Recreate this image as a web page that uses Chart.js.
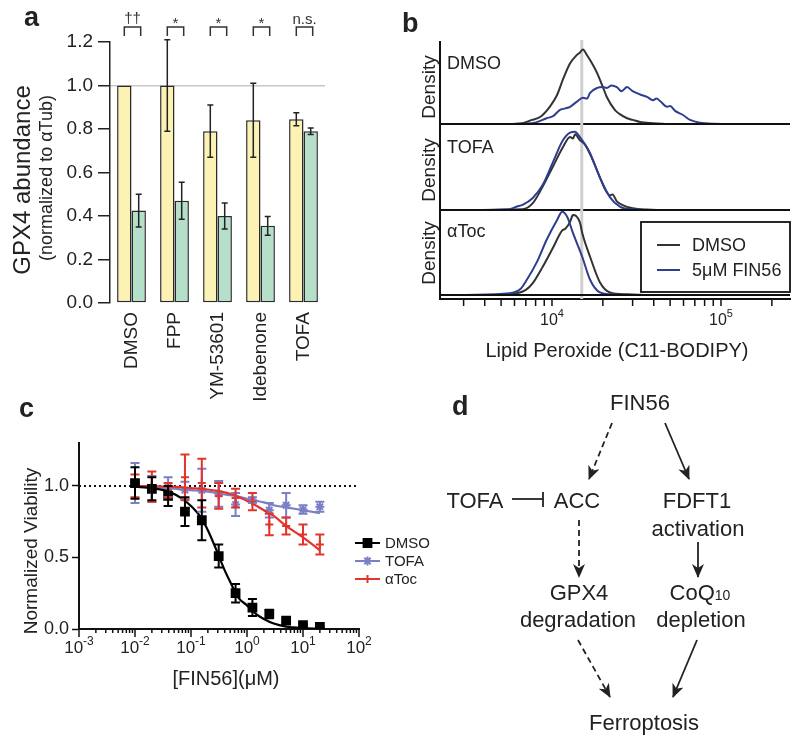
<!DOCTYPE html>
<html>
<head>
<meta charset="utf-8">
<script src="https://cdn.jsdelivr.net/npm/chart.js@4.4.1/dist/chart.umd.min.js"></script>
<style>
html, body { margin: 0; padding: 0; background: #fff; }
#fig { position: relative; width: 800px; height: 742px; overflow: hidden; background: #fff; }
#fig canvas { position: absolute; }
#txt { position: absolute; left: 0; top: 0; }
</style>
</head>
<body>
<div id="fig">
  <canvas id="cA" width="340" height="410" style="left:0;top:0"></canvas>
  <canvas id="cB1" width="400" height="88" style="left:400px;top:38px"></canvas>
  <canvas id="cB2" width="400" height="92" style="left:400px;top:120px"></canvas>
  <canvas id="cB3" width="400" height="164" style="left:400px;top:206px"></canvas>
  <canvas id="cC" width="440" height="320" style="left:0;top:380px"></canvas>

  <svg id="txt" width="800" height="742" viewBox="0 0 800 742" font-family="'Liberation Sans', Arial, sans-serif" fill="#222">
    <defs>
      <marker id="ah" viewBox="0 0 14 12" refX="13" refY="6" markerWidth="14" markerHeight="12" orient="auto" markerUnits="userSpaceOnUse">
        <path d="M0,0 L14,6 L0,12 L4,6 z" fill="#222"/>
      </marker>
    </defs>
    <g font-weight="bold" font-size="27">
      <text x="24" y="26">a</text>
      <text x="402" y="32">b</text>
      <text x="19" y="417">c</text>
      <text x="452" y="415">d</text>
    </g>
    <!-- panel a titles -->
    <text transform="translate(30,180) rotate(-90)" text-anchor="middle" font-size="24">GPX4 abundance</text>
    <text transform="translate(52,178) rotate(-90)" text-anchor="middle" font-size="18">(normalized to αTub)</text>
    <!-- panel b titles -->
    <g font-size="19" text-anchor="middle">
      <text transform="translate(435,87) rotate(-90)">Density</text>
      <text transform="translate(435,170) rotate(-90)">Density</text>
      <text transform="translate(435,253) rotate(-90)">Density</text>
    </g>
    <g font-size="18">
      <text x="447" y="69">DMSO</text>
      <text x="447" y="153">TOFA</text>
      <text x="447" y="237">αToc</text>
    </g>
    <text x="617" y="357" font-size="20" text-anchor="middle">Lipid Peroxide (C11-BODIPY)</text>
    <!-- panel c titles -->
    <text transform="translate(37,551) rotate(-90)" text-anchor="middle" font-size="19">Normalized Viability</text>
    <text x="226" y="685" text-anchor="middle" font-size="20">[FIN56](μM)</text>
    <!-- panel d diagram -->
    <g font-size="22" text-anchor="middle">
      <text x="640" y="410">FIN56</text>
      <text x="475" y="508">TOFA</text>
      <text x="577" y="508">ACC</text>
      <text x="697" y="508">FDFT1</text>
      <text x="698" y="536">activation</text>
      <text x="579" y="600">GPX4</text>
      <text x="578" y="627">degradation</text>
      <text x="700" y="600">CoQ<tspan font-size="14">10</tspan></text>
      <text x="701" y="627">depletion</text>
      <text x="644" y="730">Ferroptosis</text>
    </g>
    <g stroke="#222" stroke-width="1.8" fill="none">
      <line x1="612" y1="423" x2="589" y2="479" stroke-dasharray="6 4" marker-end="url(#ah)"/>
      <line x1="665" y1="423" x2="689" y2="479" marker-end="url(#ah)"/>
      <line x1="512" y1="499" x2="543" y2="499"/>
      <line x1="543" y1="492" x2="543" y2="507"/>
      <line x1="579" y1="520" x2="579" y2="577" stroke-dasharray="6 4" marker-end="url(#ah)"/>
      <line x1="698" y1="542" x2="698" y2="577" marker-end="url(#ah)"/>
      <line x1="578" y1="640" x2="610" y2="697" stroke-dasharray="6 4" marker-end="url(#ah)"/>
      <line x1="697" y1="640" x2="673" y2="697" marker-end="url(#ah)"/>
    </g>
  </svg>
</div>

<script>
// ---------- panel a : GPX4 abundance ----------
const aCategories = ['DMSO', 'FPP', 'YM-53601', 'Idebenone', 'TOFA'];
const aCtrl    = [1.0, 1.0, 0.79, 0.84, 0.845];
const aCtrlErr = [0, 0.21, 0.12, 0.17, 0.03];
const aFin     = [0.425, 0.47, 0.40, 0.355, 0.79];
const aFinErr  = [0.075, 0.085, 0.06, 0.043, 0.015];
const aSig     = ['††', '*', '*', '*', 'n.s.'];
const aYTicks  = [0, 0.2, 0.4, 0.6, 0.8, 1.0, 1.2];

// ---------- panel b : C11-BODIPY density (intensity, density) ----------
const bDmsoCtrl = [[5100,0],[6700,0.01],[7600,0.05],[8500,0.085],[9700,0.21],[10700,0.35],[11600,0.54],[12800,0.74],[14000,0.84],[14600,0.87],[15250,0.91],[16100,0.84],[16800,0.78],[18500,0.62],[20000,0.45],[21100,0.33],[23600,0.17],[25200,0.12],[27800,0.07],[30000,0.05],[33200,0.025],[39600,0.01],[48000,0]];
const bDmsoFin  = [[4900,0],[7600,0.01],[9300,0.07],[10200,0.10],[11100,0.17],[12000,0.19],[12800,0.21],[14000,0.27],[15250,0.32],[16100,0.31],[16800,0.38],[18500,0.44],[20000,0.45],[21100,0.44],[22500,0.47],[24200,0.45],[25800,0.40],[27800,0.45],[30000,0.40],[33200,0.36],[36500,0.33],[39600,0.29],[41500,0.31],[43600,0.28],[48000,0.21],[50000,0.22],[53500,0.16],[59600,0.11],[65600,0.05],[75000,0.015],[90000,0.003],[130000,0]];
const bTofaCtrl = [[3400,0],[6700,0.01],[7700,0.08],[8800,0.27],[10100,0.50],[11600,0.73],[12800,0.85],[13300,0.83],[13700,0.88],[14650,0.81],[15700,0.76],[17250,0.60],[19200,0.38],[20500,0.25],[22000,0.17],[22800,0.18],[24200,0.10],[26000,0.06],[30000,0.02],[36500,0.005],[45000,0]];
const bTofaFin  = [[3000,0],[5600,0.01],[6200,0.04],[6700,0.06],[7700,0.14],[8800,0.29],[10100,0.55],[11600,0.81],[12800,0.90],[13700,0.91],[14600,0.85],[15700,0.76],[16800,0.66],[19200,0.38],[22000,0.15],[25200,0.04],[30000,0.008],[36000,0]];
const bTocCtrl  = [[4900,0],[6200,0.02],[7000,0.06],[7700,0.14],[8800,0.33],[10100,0.55],[11500,0.76],[12000,0.78],[12800,0.86],[13300,0.94],[13900,0.93],[14650,0.85],[15100,0.73],[16800,0.45],[19200,0.15],[22000,0.03],[27800,0.008],[35000,0]];
const bTocFin   = [[3100,0],[5600,0.02],[6500,0.07],[7100,0.18],[8150,0.39],[9300,0.65],[10700,0.88],[11500,0.98],[12300,0.92],[13300,0.73],[15100,0.45],[16800,0.18],[19200,0.03],[22000,0.008],[26000,0]];
const bRefLine = 15000;
const bTicks = [3000,4000,5000,6000,7000,8000,9000,10000,20000,30000,40000,50000,60000,70000,80000,90000,100000,200000];
const bMajor = [10000, 100000];
const bExp   = ['4', '5'];

// ---------- panel c : viability ----------
const cConc    = [0.01, 0.02, 0.039, 0.078, 0.156, 0.3125, 0.625, 1.25, 2.5, 5, 10, 20];
const cDmso    = [1.02, 0.98, 0.93, 0.82, 0.76, 0.51, 0.25, 0.15, 0.105, 0.058, 0.027, 0.015];
const cDmsoErr = [0.11, 0.08, 0.07, 0.10, 0.14, 0.08, 0.065, 0.06, 0.03, 0.012, 0.01, 0.008];
const cTofa    = [1.02, 0.98, 0.99, 0.97, 0.97, 0.945, 0.87, 0.90, 0.83, 0.865, 0.835, 0.855];
const cTofaErr = [0.14, 0.09, 0.07, 0.06, 0.15, 0.09, 0.08, 0.02, 0.05, 0.085, 0.03, 0.035];
const cToc     = [1.0, 0.995, 0.97, 1.06, 1.02, 0.93, 0.915, 0.89, 0.73, 0.72, 0.66, 0.59];
const cTocErr  = [0.08, 0.105, 0.05, 0.16, 0.17, 0.09, 0.065, 0.06, 0.075, 0.06, 0.07, 0.07];
const cFitConc = [0.01, 0.02, 0.04, 0.07, 0.1, 0.15, 0.2, 0.3, 0.4, 0.5, 0.7, 1, 1.5, 2, 3, 5, 10, 20];
const cDmsoFit = [0.995, 0.985, 0.96, 0.91, 0.86, 0.78, 0.69, 0.53, 0.41, 0.33, 0.22, 0.165, 0.10, 0.07, 0.038, 0.017, 0.006, 0.002];
const cTofaFit = [1.0, 0.99, 0.985, 0.975, 0.97, 0.965, 0.96, 0.95, 0.94, 0.935, 0.925, 0.91, 0.895, 0.885, 0.865, 0.85, 0.83, 0.81];
const cTocFit  = [1.0, 0.998, 0.995, 0.99, 0.985, 0.98, 0.975, 0.965, 0.955, 0.945, 0.925, 0.895, 0.86, 0.83, 0.79, 0.72, 0.64, 0.55];
const cLegendOrder = ['DMSO', 'TOFA', 'αToc'];
const cRefLine = 1.0;
const cYTicks  = [0, 0.5, 1.0];
const cXTicks  = [0.001,0.002,0.003,0.004,0.005,0.006,0.007,0.008,0.009,
                  0.01,0.02,0.03,0.04,0.05,0.06,0.07,0.08,0.09,
                  0.1,0.2,0.3,0.4,0.5,0.6,0.7,0.8,0.9,
                  1,2,3,4,5,6,7,8,9,
                  10,20,30,40,50,60,70,80,90,100];
const cXMajor  = [0.001, 0.01, 0.1, 1, 10, 100];
const cXExp    = ['-3', '-2', '-1', '0', '1', '2'];

const FONT = "'Liberation Sans', Arial, Helvetica, sans-serif";
Chart.defaults.font.family = FONT;
Chart.defaults.color = '#222';
Chart.defaults.animation = false;
Chart.defaults.responsive = false;
Chart.defaults.plugins.legend.display = false;
Chart.defaults.plugins.tooltip.enabled = false;

const toXY = arr => arr.map(([x, y]) => ({ x, y }));
const zipXY = (xs, ys) => xs.map((x, i) => ({ x, y: ys[i] }));

// error bars, read from dataset.errorBars
const errorBars = {
  id: 'errorBars',
  afterDatasetsDraw(chart, args, opts) {
    const ctx = chart.ctx;
    for (let i = chart.data.datasets.length - 1; i >= 0; i--) {
      const ds = chart.data.datasets[i];
      if (!ds.errorBars) continue;
      const meta = chart.getDatasetMeta(i);
      const ys = chart.scales[meta.yAxisID];
      ctx.save();
      ctx.strokeStyle = ds.errorColor || ds.borderColor;
      ctx.lineWidth = opts.width || 1.5;
      meta.data.forEach((el, j) => {
        const e = ds.errorBars[j];
        if (!e) return;
        const v = typeof ds.data[j] === 'object' ? ds.data[j].y : ds.data[j];
        const t = ys.getPixelForValue(v + e), b = ys.getPixelForValue(v - e), c = opts.cap || 3;
        ctx.beginPath();
        ctx.moveTo(el.x, t); ctx.lineTo(el.x, b);
        ctx.moveTo(el.x - c, t); ctx.lineTo(el.x + c, t);
        ctx.moveTo(el.x - c, b); ctx.lineTo(el.x + c, b);
        ctx.stroke();
      });
      ctx.restore();
    }
  }
};

// significance brackets over panel a
const sigBrackets = {
  id: 'sigBrackets',
  afterDraw(chart) {
    const ctx = chart.ctx;
    const m0 = chart.getDatasetMeta(0), m1 = chart.getDatasetMeta(1);
    ctx.save();
    ctx.strokeStyle = '#333'; ctx.fillStyle = '#333'; ctx.lineWidth = 1.5;
    ctx.font = '15px ' + FONT; ctx.textAlign = 'center';
    aSig.forEach((s, i) => {
      const x0 = m0.data[i].x, x1 = m1.data[i].x + 2;
      ctx.beginPath();
      ctx.moveTo(x0, 36); ctx.lineTo(x0, 27); ctx.lineTo(x1, 27); ctx.lineTo(x1, 36);
      ctx.stroke();
      const m = ctx.measureText(s);
      ctx.fillText(s, (x0 + x1) / 2, 24 - m.actualBoundingBoxDescent);
    });
    ctx.restore();
  }
};

new Chart(document.getElementById('cA'), {
  type: 'bar',
  data: {
    labels: aCategories,
    datasets: [
      { label: 'DMSO', data: aCtrl, errorBars: aCtrlErr, errorColor: '#222', backgroundColor: '#fbf2b3', borderColor: '#2a2a2a', borderWidth: 1.5, borderSkipped: false, barPercentage: 1, categoryPercentage: 0.67 },
      { label: 'FIN56', data: aFin, errorBars: aFinErr, errorColor: '#222', backgroundColor: '#b6dfc9', borderColor: '#2a2a2a', borderWidth: 1.5, borderSkipped: false, barPercentage: 1, categoryPercentage: 0.67 }
    ]
  },
  options: {
    layout: { padding: { left: 0, right: 15, top: 42, bottom: 0 } },
    plugins: { errorBars: { width: 1.5, cap: 3 } },
    scales: {
      x: {
        grid: { display: false, drawTicks: false },
        border: { display: false },
        ticks: { minRotation: 90, maxRotation: 90, autoSkip: false, padding: 9, font: { size: 19 }, color: '#222' },
        afterFit(s) { s.height = 107; }
      },
      y: {
        min: 0, max: 1.2,
        afterBuildTicks(s) { s.ticks = aYTicks.map(v => ({ value: v })); },
        ticks: { callback: v => v.toFixed(1), font: { size: 19 }, padding: 5, color: '#222' },
        grid: { color: c => (c.tick && Math.abs(c.tick.value - 1) < 1e-6) ? '#c8c8c8' : 'rgba(0,0,0,0)', tickColor: '#222', tickLength: 12, lineWidth: 1.5, tickWidth: 1.5 },
        border: { color: '#222', width: 1.5 },
        afterFit(s) { s.width = 110; }
      }
    }
  },
  plugins: [errorBars, sigBrackets]
});

// ---------- panel b ----------
const densityDecor = {
  id: 'densityDecor',
  beforeDatasetsDraw(chart) {
    const { ctx, chartArea: a, scales: { x } } = chart;
    const gx = x.getPixelForValue(bRefLine);
    ctx.save();
    ctx.strokeStyle = '#cfcfcf'; ctx.lineWidth = 3;
    ctx.beginPath(); ctx.moveTo(gx, a.top - 2); ctx.lineTo(gx, a.bottom); ctx.stroke();
    ctx.restore();
  },
  afterDatasetsDraw(chart) {
    const { ctx, chartArea: a, scales: { y } } = chart;
    const by = y.getPixelForValue(0);
    ctx.save();
    ctx.strokeStyle = '#111'; ctx.lineWidth = 2.2;
    ctx.beginPath(); ctx.moveTo(a.left, by); ctx.lineTo(a.right, by); ctx.stroke();
    ctx.restore();
  }
};

const supLabel = (ctx, x, y, base, exp, fs, es, rise) => {
  ctx.font = fs + 'px ' + FONT;
  const wb = ctx.measureText(base).width;
  ctx.font = es + 'px ' + FONT;
  const we = ctx.measureText(exp).width;
  const x0 = x - (wb + we) / 2;
  ctx.textAlign = 'left';
  ctx.font = fs + 'px ' + FONT; ctx.fillText(base, x0, y);
  ctx.font = es + 'px ' + FONT; ctx.fillText(exp, x0 + wb, y - rise);
};

const bAxisTicks = {
  id: 'bAxisTicks',
  afterDraw(chart) {
    const { ctx, chartArea: a, scales: { x } } = chart;
    ctx.save();
    ctx.strokeStyle = '#111'; ctx.fillStyle = '#222'; ctx.lineWidth = 1.5;
    bTicks.forEach(v => {
      const px = x.getPixelForValue(v);
      ctx.beginPath(); ctx.moveTo(px, a.bottom + 1); ctx.lineTo(px, a.bottom + 7); ctx.stroke();
    });
    bMajor.forEach((v, i) => supLabel(ctx, x.getPixelForValue(v), a.bottom + 26, '10', bExp[i], 16, 11, 8));
    ctx.restore();
  }
};

const bLegend = {
  id: 'bLegend',
  afterDraw(chart) {
    const { ctx, chartArea: a } = chart;
    const w = 149, h = 70, l = a.right - w, t = a.top + 12;
    ctx.save();
    ctx.fillStyle = '#fff'; ctx.fillRect(l, t, w, h);
    ctx.strokeStyle = '#111'; ctx.lineWidth = 1.8; ctx.strokeRect(l, t, w, h);
    ctx.font = '18px ' + FONT; ctx.textBaseline = 'middle'; ctx.textAlign = 'left';
    chart.data.datasets.forEach((ds, i) => {
      const yy = t + 23 + i * 25;
      ctx.strokeStyle = ds.borderColor; ctx.lineWidth = 2;
      ctx.beginPath(); ctx.moveTo(l + 16, yy); ctx.lineTo(l + 39, yy); ctx.stroke();
      ctx.fillStyle = '#222'; ctx.fillText(ds.label, l + 51, yy + 1);
    });
    ctx.restore();
  }
};

const bMin = 2175, bMax = 256000;
function densityChart(id, ctrl, fin, bottom) {
  return new Chart(document.getElementById(id), {
    type: 'line',
    data: {
      datasets: [
        { label: 'DMSO', data: toXY(ctrl), borderColor: '#333', order: 1 },
        { label: '5μM FIN56', data: toXY(fin), borderColor: '#2f3d8f', order: 0 }
      ]
    },
    options: {
      layout: { padding: { left: 0, right: 10, top: 4, bottom: bottom ? 0 : 2 } },
      elements: { point: { radius: 0 }, line: { borderWidth: 2, cubicInterpolationMode: 'monotone' } },
      scales: {
        x: {
          type: 'logarithmic', min: bMin, max: bMax, display: bottom,
          ticks: { display: false }, grid: { display: false },
          border: { color: '#111', width: 2 },
          afterFit(s) { s.height = bottom ? 71 : 0; }
        },
        y: {
          min: bottom ? -0.047 : 0, max: 1,
          ticks: { display: false }, grid: { display: false },
          border: { color: '#111', width: 2 },
          afterFit(s) { s.width = 40; }
        }
      }
    },
    plugins: bottom ? [densityDecor, bAxisTicks, bLegend] : [densityDecor]
  });
}
densityChart('cB1', bDmsoCtrl, bDmsoFin, false);
densityChart('cB2', bTofaCtrl, bTofaFin, false);
densityChart('cB3', bTocCtrl, bTocFin, true);

// ---------- panel c ----------
const cDecor = {
  id: 'cDecor',
  beforeDatasetsDraw(chart) {
    const { ctx, chartArea: a, scales: { y } } = chart;
    const ry = y.getPixelForValue(cRefLine);
    ctx.save();
    ctx.strokeStyle = '#111'; ctx.lineWidth = 2; ctx.setLineDash([2, 3]);
    ctx.beginPath(); ctx.moveTo(a.left, ry); ctx.lineTo(a.right - 2, ry); ctx.stroke();
    ctx.restore();
  },
  afterDraw(chart) {
    const { ctx, chartArea: a, scales: { x } } = chart;
    ctx.save();
    ctx.strokeStyle = '#111'; ctx.fillStyle = '#222'; ctx.lineWidth = 1.5;
    cXTicks.forEach(v => {
      const px = x.getPixelForValue(v);
      const len = cXMajor.includes(v) ? 8 : 4;
      ctx.beginPath(); ctx.moveTo(px, a.bottom); ctx.lineTo(px, a.bottom + len); ctx.stroke();
    });
    cXMajor.forEach((v, i) => supLabel(ctx, x.getPixelForValue(v), a.bottom + 24, '10', cXExp[i], 17, 12, 8));
    // legend
    ctx.font = '15px ' + FONT; ctx.textBaseline = 'middle';
    cLegendOrder.forEach((name, k) => {
      const d = chart.data.datasets.find(ds => ds.label === name);
      const yy = a.top + 100 + k * 18, x0 = a.right - 4;
      ctx.strokeStyle = d.borderColor; ctx.lineWidth = 2;
      ctx.beginPath(); ctx.moveTo(x0, yy); ctx.lineTo(x0 + 25, yy); ctx.stroke();
      ctx.fillStyle = d.backgroundColor;
      Chart.helpers.drawPoint(ctx, { pointStyle: d.pointStyle, radius: d.pointRadius, borderWidth: d.borderWidth, rotation: 0 }, x0 + 12.5, yy);
      ctx.fillStyle = '#222'; ctx.textAlign = 'left';
      ctx.fillText(d.label, x0 + 30, yy + 1);
    });
    ctx.restore();
  }
};

const pts = (label, ys, err, color, style, r) => ({
  label, data: zipXY(cConc, ys), errorBars: err, showLine: false,
  borderColor: color, backgroundColor: color, pointStyle: style, pointRadius: r, borderWidth: 2
});
const fit = (ys, color) => ({
  data: zipXY(cFitConc, ys), showLine: true, pointRadius: 0, borderColor: color, borderWidth: 2.2,
  cubicInterpolationMode: 'monotone'
});

new Chart(document.getElementById('cC'), {
  type: 'scatter',
  data: {
    datasets: [
      pts('DMSO', cDmso, cDmsoErr, '#000', 'rect', 5.5),
      fit(cDmsoFit, '#000'),
      pts('αToc', cToc, cTocErr, '#e3342b', 'cross', 4),
      fit(cTocFit, '#e3342b'),
      pts('TOFA', cTofa, cTofaErr, '#7a7fc6', 'star', 4.5),
      fit(cTofaFit, '#7a7fc6')
    ]
  },
  options: {
    layout: { padding: { left: 0, right: 81, top: 63, bottom: 0 } },
    plugins: { errorBars: { width: 2, cap: 4.5 } },
    scales: {
      x: {
        type: 'logarithmic', min: 0.001, max: 100,
        ticks: { display: false }, grid: { display: false },
        border: { color: '#111', width: 2 },
        afterFit(s) { s.height = 71; }
      },
      y: {
        min: 0, max: 1.3,
        afterBuildTicks(s) { s.ticks = cYTicks.map(v => ({ value: v })); },
        ticks: { callback: v => v.toFixed(1), font: { size: 18 }, padding: 3, color: '#222' },
        grid: { drawOnChartArea: false, tickColor: '#111', tickLength: 7, tickWidth: 1.5 },
        border: { color: '#111', width: 2 },
        afterFit(s) { s.width = 79; }
      }
    }
  },
  plugins: [cDecor, errorBars]
});
</script>
</body>
</html>
